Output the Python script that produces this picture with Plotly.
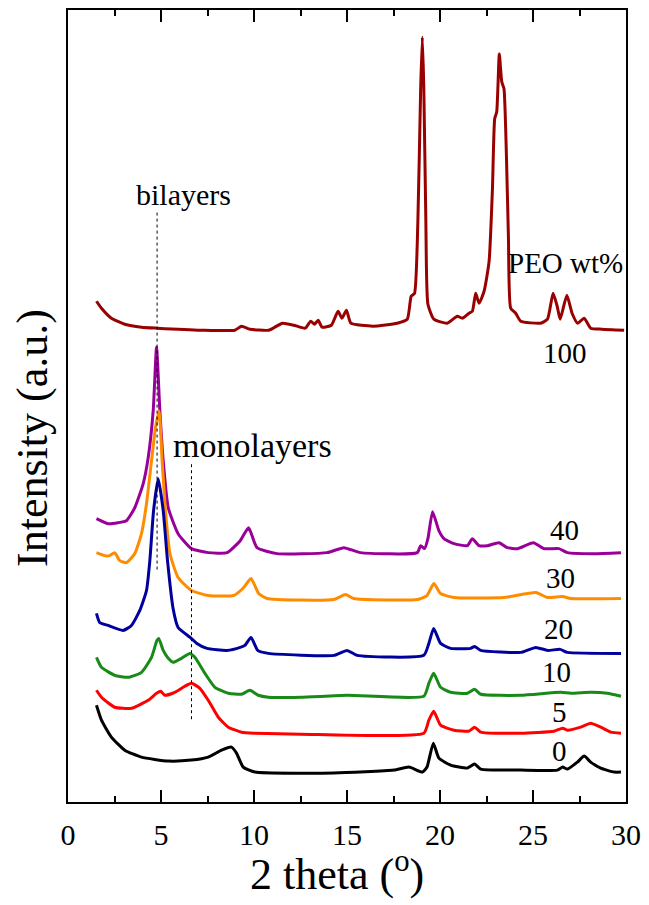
import plotly.graph_objects as go

# XRD patterns (2theta in degrees, intensity in a.u. with offsets)
x_100 = [1.53, 1.8, 2.33, 3.05, 3.95, 4.8, 7.18, 8.97, 9.33, 9.78, 10.8, 11.53, 12.14, 12.75,
         13.05, 13.25, 13.45, 13.66, 14.16, 14.52, 14.73, 14.97, 15.21, 16.4, 17.7, 18.24,
         18.45, 18.63, 18.81, 18.96, 19.05, 19.13, 19.24, 19.35, 19.67, 20.39, 20.93, 21.2,
         21.56, 21.74, 21.92, 22.1, 22.37, 22.64, 22.82, 22.94, 23.05, 23.19, 23.32, 23.44,
         23.57, 23.68, 23.8, 24.07, 24.34, 25.4, 25.78, 26.08, 26.3, 26.46, 26.82, 27.1,
         27.4, 27.75, 28.1, 28.7, 29.9]
y_100 = [502, 495, 485, 479, 476, 475, 473, 473, 477, 474, 473, 480, 478, 475,
         482, 479, 483, 476, 478, 492, 485, 493, 480, 477, 480, 484,
         507, 510, 582, 715, 767, 715, 582, 499, 484, 480, 487, 485,
         490, 492, 510, 500, 512, 542, 615, 685, 692, 750, 722, 715,
         649, 565, 495, 490, 482, 480, 484, 510, 497, 484, 508, 490,
         480, 485, 475, 474, 473]

x_40 = [1.53, 2.15, 2.69, 3.14, 3.59, 4.04, 4.31, 4.58, 4.76, 4.94, 5.12, 5.39, 5.92, 6.64,
        7.54, 8.55, 9.26, 9.71, 10.16, 11.24, 13.93, 14.83, 15.72, 18.78, 18.96, 19.17,
        19.35, 19.6, 19.94, 20.21, 20.75, 21.47, 21.74, 22.1, 22.55, 23.17, 23.62, 24.16,
        25.02, 25.6, 26.4, 26.85, 28.29, 29.73]
y_40 = [284, 279, 280, 282, 295, 319, 345, 392, 456, 392, 342, 295, 269, 254,
        250, 250, 262, 275, 255, 249, 250, 255, 250, 250, 257, 254,
        264, 291, 272, 264, 259, 257, 264, 257, 257, 260, 255, 254,
        260, 254, 254, 250, 249, 250]

x_30 = [1.53, 1.97, 2.24, 2.51, 2.78, 3.14, 3.59, 3.95, 4.22, 4.49, 4.7, 4.9, 5.06, 5.24,
        5.48, 5.92, 6.64, 7.54, 8.9, 9.4, 9.84, 10.25, 10.7, 14.29, 14.92, 15.36, 18.78,
        19.3, 19.67, 20.03, 20.75, 23.44, 25.15, 25.78, 26.59, 27.03, 29.73]
y_30 = [250, 247, 247, 250, 242, 240, 249, 269, 299, 342, 375, 392, 342, 292,
        249, 225, 212, 207, 207, 214, 224, 209, 204, 203, 208, 204, 203,
        207, 219, 209, 205, 205, 210, 205, 206, 204, 204]

x_20 = [1.53, 1.7, 2.15, 2.96, 3.41, 3.86, 4.22, 4.4, 4.6, 4.85, 5.12, 5.35, 5.65, 5.92,
        6.57, 6.93, 7.47, 8.55, 9.26, 9.51, 9.84, 10.2, 10.77, 14.29, 15.0, 15.55, 19.13,
        19.4, 19.66, 20.03, 20.57, 21.65, 21.86, 22.19, 24.34, 25.15, 25.78, 26.46, 26.85,
        29.73]
y_20 = [189, 180, 177, 172, 177, 192, 212, 242, 292, 324, 292, 242, 194, 175,
        165, 159, 154, 152, 155, 157, 165, 152, 149, 147, 152, 147, 147,
        159, 174, 159, 154, 154, 156, 152, 150, 155, 152, 153, 150,
        149]

x_10 = [1.53, 1.8, 2.51, 3.23, 3.95, 4.49, 4.78, 4.88, 5.12, 5.39, 5.65, 6.1, 6.55, 6.82,
        7.36, 7.9, 8.62, 9.33, 9.78, 10.23, 10.77, 12.5, 15.0, 19.13, 19.4, 19.66, 20.03,
        20.57, 21.47, 21.86, 22.19, 24.34, 26.5, 27.03, 28.1, 29.0, 29.73]
y_10 = [145, 135, 127, 125, 130, 145, 162, 164, 152, 144, 140, 144, 149, 145,
        129, 115, 109, 108, 112, 107, 105, 105, 107, 106, 119, 129, 115,
        110, 109, 113, 108, 107, 110, 109, 110, 109, 106]

x_5 = [1.53, 1.8, 2.51, 3.41, 4.31, 4.76, 4.99, 5.2, 5.74, 6.28, 6.64, 7.09, 7.54, 8.08,
       8.62, 9.33, 10.05, 12.5, 19.13, 19.4, 19.66, 20.03, 20.75, 21.56, 21.86, 22.19,
       24.34, 26.13, 26.59, 26.85, 27.57, 28.1, 28.64, 29.18, 29.73]
y_5 = [112, 105, 95, 94, 102, 109, 111, 107, 110, 116, 119, 114, 102, 85,
       75, 70, 69, 68, 69, 82, 91, 77, 72, 71, 75, 70,
       69, 71, 74, 72, 75, 79, 75, 70, 69]

x_0 = [1.53, 1.8, 2.33, 3.05, 3.95, 5.39, 6.64, 7.54, 8.26, 8.79, 9.06, 9.42, 10.05, 14.29,
       17.52, 18.33, 19.05, 19.3, 19.64, 19.94, 20.57, 21.47, 21.86, 22.19, 24.34, 26.31,
       26.59, 26.85, 27.39, 27.75, 28.1, 28.64, 29.36, 29.73]
y_0 = [97, 82, 65, 52, 45, 41, 42, 45, 52, 55, 49, 35, 30, 29,
       32, 35, 30, 35, 59, 44, 37, 34, 38, 33, 32, 32,
       35, 33, 40, 46, 40, 34, 30, 30]

series = [("100", x_100, y_100, "#990000"),
          ("40", x_40, y_40, "#990099"),
          ("30", x_30, y_30, "#ff8c00"),
          ("20", x_20, y_20, "#00009c"),
          ("10", x_10, y_10, "#178a17"),
          ("5", x_5, y_5, "#ff0000"),
          ("0", x_0, y_0, "#000000")]

# curve labels (PEO wt%) placed beside each pattern
label_text = ["100", "40", "30", "20", "10", "5", "0"]
label_x = [26.7, 26.67, 26.5, 26.36, 26.29, 26.45, 26.41]
label_y = [450, 273, 225, 173, 130, 90, 51]

# dotted guide lines: bilayers / monolayers
guide_x = [4.79, 6.64]
guide_top = [591, 339]
guide_bottom = [233, 83]
guide_text = ["bilayers", "monolayers"]
guide_text_x = [6.2, 9.9]
guide_text_y = [609, 357]
guide_text_size = [30, 34]

FONT = "Liberation Serif, Times New Roman, serif"

fig = go.Figure()
for name, xs, ys, color in series:
    fig.add_trace(go.Scatter(x=xs, y=ys, mode="lines", name=name,
                             line=dict(color=color, width=3, shape="spline",
                                       smoothing=0.5)))

for gx, top, bot in zip(guide_x, guide_top, guide_bottom):
    fig.add_trace(go.Scatter(x=[gx, gx], y=[bot, top], mode="lines",
                             line=dict(color="black", width=1, dash="dot"),
                             hoverinfo="skip"))

for t, tx, ty, sz in zip(guide_text, guide_text_x, guide_text_y, guide_text_size):
    fig.add_annotation(x=tx, y=ty, text=t, showarrow=False,
                       font=dict(family=FONT, size=sz, color="black"))

for t, tx, ty in zip(label_text, label_x, label_y):
    fig.add_annotation(x=tx, y=ty, text=t, showarrow=False,
                       font=dict(family=FONT, size=29, color="black"))

fig.add_annotation(x=29.95, y=540, text="PEO wt%", showarrow=False, xanchor="right",
                   font=dict(family=FONT, size=29, color="black"))

# axis titles
fig.add_annotation(x=-0.064, y=0.46, xref="paper", yref="paper", text="Intensity (a.u.)",
                   textangle=-90, showarrow=False, xanchor="center", yanchor="middle",
                   font=dict(family=FONT, size=44, color="black"))
fig.add_annotation(x=0.482, y=-0.088, xref="paper", yref="paper",
                   text="2 theta (<sup>o</sup>)", showarrow=False,
                   xanchor="center", yanchor="middle",
                   font=dict(family=FONT, size=44, color="black"))

fig.update_layout(
    width=649, height=905, showlegend=False,
    paper_bgcolor="white", plot_bgcolor="white",
    margin=dict(l=68, r=23, t=8, b=103),
    font=dict(family=FONT, size=30, color="black"),
    xaxis=dict(range=[0, 30], tickvals=[0, 5, 10, 15, 20, 25, 30],
               ticks="inside", ticklen=12, tickwidth=1.5, tickcolor="black",
               minor=dict(ticks="inside", ticklen=6, tickwidth=1.5, dtick=2.5,
                          tickcolor="black"),
               showline=True, linewidth=2, linecolor="black", mirror="ticks",
               showgrid=False, zeroline=False, tickfont=dict(size=30),
               ticklabelstandoff=5),
    yaxis=dict(range=[0, 794], showticklabels=False, ticks="",
               showline=True, linewidth=2, linecolor="black", mirror=True,
               showgrid=False, zeroline=False),
)

# drop the browser's default page margin so the figure fills the window exactly
fig.write_html("out.html", config={"displayModeBar": False},
               post_script="document.body.style.margin='0';")
